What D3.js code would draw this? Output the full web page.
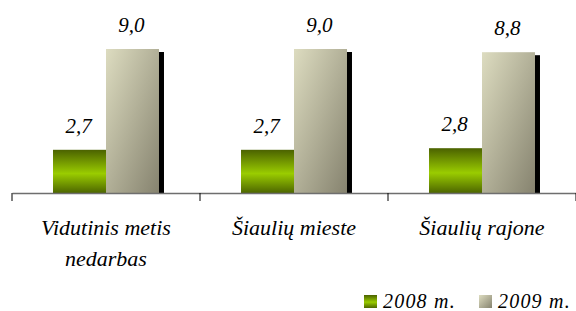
<!DOCTYPE html>
<html><head><meta charset="utf-8">
<script src="https://cdn.jsdelivr.net/npm/d3@7"></script>
<style>html,body{margin:0;padding:0;background:#fff;}svg{display:block;}
#c text, #c tspan{font-family:"Liberation Serif",serif !important;font-style:italic !important;}</style>
</head><body>
<svg id="c" width="576" height="311"></svg>
<script>
const categories = [["Vidutinis metis","nedarbas"],["Šiaulių mieste"],["Šiaulių rajone"]];
const seriesNames = ["2008 m.","2009 m."];
const values2008 = [2.7, 2.7, 2.8];
const values2009 = [9.0, 9.0, 8.8];
const valueLabels2008 = ["2,7","2,7","2,8"];
const valueLabels2009 = ["9,0","9,0","8,8"];

const svg = d3.select("#c");
const fontName = "Liberation Serif";
const defs = svg.append("defs");
const gG = defs.append("linearGradient").attr("id","gGreen").attr("x1",0).attr("y1",0).attr("x2",0).attr("y2",1);
gG.append("stop").attr("offset","0%").attr("stop-color","#4b6200");
gG.append("stop").attr("offset","55%").attr("stop-color","#9acc00");
gG.append("stop").attr("offset","100%").attr("stop-color","#4d6600");
const gB = defs.append("linearGradient").attr("id","gBeige").attr("x1",0).attr("y1",0).attr("x2",1).attr("y2",1);
gB.append("stop").attr("offset","0%").attr("stop-color","#dddcc0");
gB.append("stop").attr("offset","100%").attr("stop-color","#86836f");
const fills = ["url(#gGreen)","url(#gBeige)"];

const catKeys = categories.map((c,i)=>"c"+i);
const x0 = d3.scaleBand().domain(catKeys).range([12,576]).paddingInner(0).paddingOuter(0);
const x1 = d3.scaleBand().domain(seriesNames).range([0,x0.bandwidth()]).paddingInner(0).paddingOuter(0.774);
const y = d3.scaleLinear().domain([0,10]).range([193,33]);

const data = [];
catKeys.forEach((k,i)=>{
  data.push({cat:k, s:seriesNames[0], v:values2008[i], lab:valueLabels2008[i], si:0});
  data.push({cat:k, s:seriesNames[1], v:values2009[i], lab:valueLabels2009[i], si:1});
});

function serif(sel, size){
  return sel.attr("font-family", fontName).attr("font-style","italic")
    .style("font-family", fontName, "important").style("font-style","italic","important")
    .style("font-size", size+"px");
}

// shadows
svg.append("g").selectAll("rect").data(data.filter(d=>d.si===1)).join("rect")
  .attr("x",d=>x0(d.cat)+x1(d.s)+5).attr("y",d=>y(d.v)+3)
  .attr("width",x1.bandwidth()).attr("height",d=>y(0)-y(d.v)-3).attr("fill","#000");
// bars
svg.append("g").selectAll("rect").data(data).join("rect")
  .attr("x",d=>x0(d.cat)+x1(d.s)).attr("y",d=>y(d.v))
  .attr("width",x1.bandwidth()).attr("height",d=>y(0)-y(d.v)).attr("fill",d=>fills[d.si]);
// value labels
serif(svg.append("g").selectAll("text").data(data).join("text")
  .attr("x",d=>x0(d.cat)+x1(d.s)+x1.bandwidth()/2-1).attr("y",d=>y(d.v)-17)
  .attr("text-anchor","middle").attr("fill","#000").text(d=>d.lab), 21);

// axis
const ax = svg.append("g").attr("transform","translate(0,193)")
  .call(d3.axisBottom(x0).tickSize(0).tickFormat(""));
ax.attr("font-family", null);
ax.select(".domain").attr("stroke","#6e6e6e").attr("stroke-width",1.5);
ax.selectAll(".tick").remove();
const bounds = catKeys.map(k=>x0(k)).concat([x0(catKeys[catKeys.length-1])+x0.bandwidth()]);
svg.append("g").selectAll("line").data(bounds).join("line")
  .attr("x1",d=>d).attr("x2",d=>d).attr("y1",193).attr("y2",201)
  .attr("stroke","#000").attr("stroke-width",1);

// category labels
const cl = serif(svg.append("g").selectAll("text").data(catKeys).join("text")
  .attr("x",k=>x0(k)+x0.bandwidth()/2).attr("y",235)
  .attr("text-anchor","middle").attr("fill","#000"), 22);
cl.each(function(k,i){
  const t = d3.select(this);
  categories[i].forEach((line,j)=>{
    t.append("tspan").attr("x",x0(k)+x0.bandwidth()/2).attr("dy",j===0?0:31).text(line);
  });
});

// legend
const legendX = [364, 479];
const lg = svg.append("g").selectAll("g").data(seriesNames).join("g")
  .attr("transform",(d,i)=>`translate(${legendX[i]},295)`);
lg.append("rect").attr("width",13).attr("height",13).attr("fill",(d,i)=>fills[i]);
serif(lg.append("text").attr("x",19).attr("y",12.5)
  .attr("letter-spacing",1.2).attr("fill","#000").text(d=>d), 20);
</script>
</body></html>
